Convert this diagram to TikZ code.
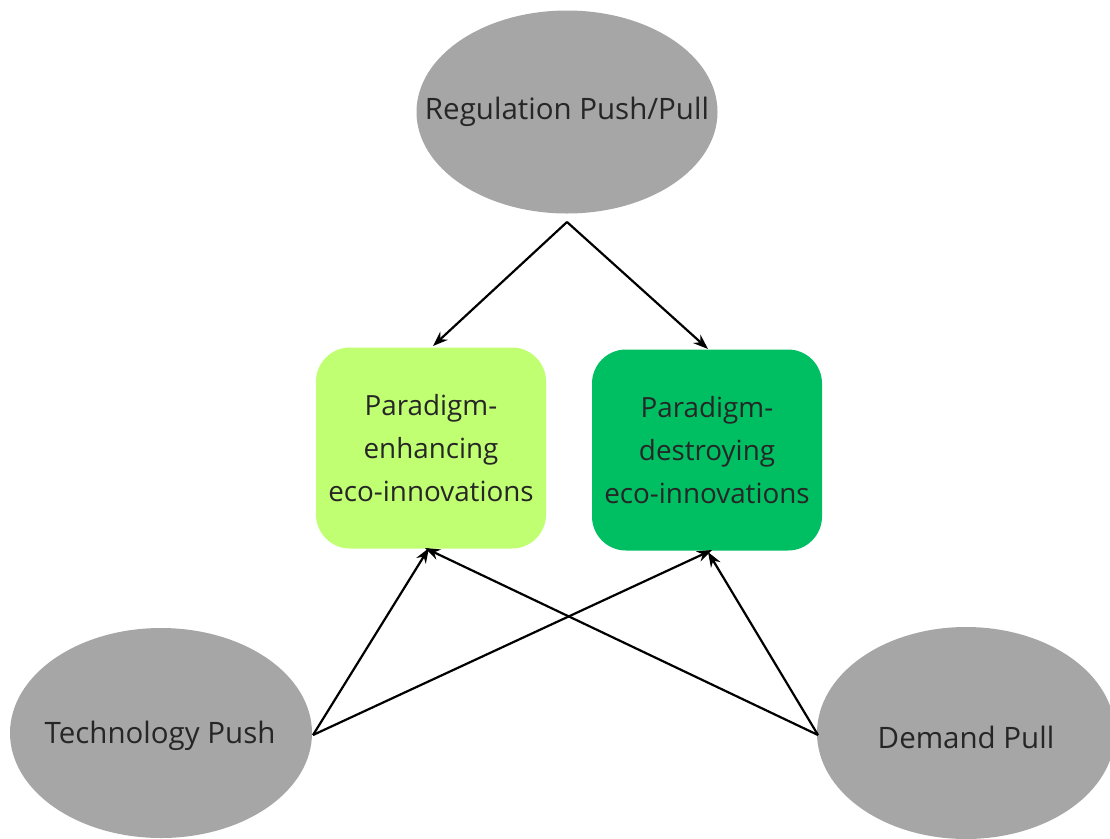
\documentclass[tikz,border=0pt]{standalone}
\usepackage{fontspec}
\setmainfont{Open Sans}
\usetikzlibrary{shapes.geometric,arrows.meta}
\definecolor{ellgray}{HTML}{A6A6A6}
\definecolor{lightgreen}{HTML}{C1FF72}
\definecolor{darkgreen}{HTML}{00BF63}
\definecolor{txt}{HTML}{262626}
\tikzset{
  oval/.style={ellipse, fill=ellgray, draw=none, inner sep=0pt},
  ovaltext/.style={text=txt, font=\fontsize{29.5}{34}\selectfont, inner sep=0pt},
  greenbox/.style={rounded corners=34pt, draw=none, minimum width=230pt, minimum height=201pt, inner sep=0pt, align=center, text=txt, font=\fontsize{27.8}{43}\selectfont},
  arr/.style={-{Stealth[length=15pt,width=11pt]}, line width=2.2pt, black}
}
\begin{document}
\begin{tikzpicture}[x=1pt,y=-1pt]
\useasboundingbox (0,0) rectangle (1110,838);
\clip (0,0) rectangle (1110,838);
\fill[white] (0,0) rectangle (1110,838);
\node[oval, minimum width=301pt, minimum height=203pt] (reg) at (567,112) {};
\node[ovaltext] (regt) at (reg.center) {Regulation Push/Pull};
\node[oval, minimum width=302pt, minimum height=210pt] (tech) at (161,733) {};
\node[ovaltext] (techt) at (160,736) {Technology Push};
\node[oval, minimum width=298pt, minimum height=212pt] (dem) at (966,733) {};
\node[ovaltext] (demt) at (966,737) {Demand Pull};
\node[greenbox, fill=lightgreen] (enh) at (431,448) {Paradigm-\\enhancing\\eco-innovations};
\node[greenbox, fill=darkgreen] (des) at (707,450) {Paradigm-\\destroying\\eco-innovations};
\coordinate (rs) at (567,222);
\coordinate (ts) at (313,735);
\coordinate (ds) at (818,735);
\coordinate (enhTop) at (433,346);
\coordinate (desTop) at (708,349);
\coordinate (enhBotA) at (429,548);
\coordinate (enhBotB) at (425,548);
\coordinate (desBotA) at (712,550);
\coordinate (desBotB) at (708,552);
\draw[arr] (rs) -- (enhTop);
\draw[arr] (rs) -- (desTop);
\draw[arr] (ts) -- (enhBotA);
\draw[arr] (ts) -- (desBotA);
\draw[arr] (ds) -- (enhBotB);
\draw[arr] (ds) -- (desBotB);
\end{tikzpicture}
\end{document}
